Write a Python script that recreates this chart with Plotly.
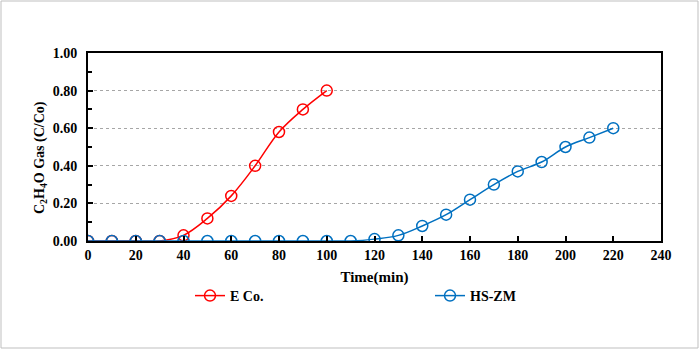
import plotly.graph_objects as go

time_eco = [0, 10, 20, 30, 40, 50, 60, 70, 80, 90, 100]
eco_vals = [0, 0, 0, 0, 0.03, 0.12, 0.24, 0.40, 0.58, 0.70, 0.80]
time_hs = [0, 10, 20, 30, 40, 50, 60, 70, 80, 90, 100, 110, 120, 130, 140, 150, 160, 170, 180, 190, 200, 210, 220]
hs_vals = [0, 0, 0, 0, 0, 0, 0, 0, 0, 0, 0, 0, 0.01, 0.03, 0.08, 0.14, 0.22, 0.30, 0.37, 0.42, 0.50, 0.55, 0.60]
x_ticks = list(range(0, 241, 20))
y_ticks = [0, 0.2, 0.4, 0.6, 0.8, 1.0]

FONT = "Liberation Serif"
fig = go.Figure()
fig.add_trace(go.Scatter(x=time_eco, y=eco_vals, name="<b>E Co.</b>", mode="lines+markers", legend="legend",
                         line=dict(color="#FF0000", width=1.5, shape="spline"),
                         marker=dict(symbol="circle-open", size=11, color="#FF0000", line=dict(width=1.5))))
fig.add_trace(go.Scatter(x=time_hs, y=hs_vals, name="<b>HS-ZM</b>", mode="lines+markers", legend="legend2",
                         line=dict(color="#0070C0", width=1.5, shape="spline"),
                         marker=dict(symbol="circle-open", size=11, color="#0070C0", line=dict(width=1.5))))

L, R, T, B = 88, 39, 53, 109
W, H = 700, 350
pw, ph = W - L - R, H - T - B
fig.add_shape(type="rect", xref="paper", yref="paper",
              x0=(1 - L) / pw, x1=(698 - L) / pw, y0=(H - B - 348) / ph, y1=(H - B - 1) / ph,
              line=dict(color="#BFBFBF", width=1), layer="below")

fig.add_annotation(text="<b>C<sub>2</sub>H<sub>4</sub>O Gas (C/Co)</b>", xref="paper", yref="paper",
                   x=(40 - L) / pw, y=(H - B - 158) / ph, textangle=-90, showarrow=False,
                   xanchor="center", yanchor="middle", font=dict(family=FONT, size=14, color="black"))

leg_common = dict(orientation="h", yanchor="middle", font=dict(family=FONT, size=14),
                  itemwidth=30, bgcolor="rgba(0,0,0,0)")
ly = (H - B - 296) / ph
fig.update_layout(
    width=W, height=H, margin=dict(l=L, r=R, t=T, b=B, autoexpand=False),
    paper_bgcolor="white", plot_bgcolor="white",
    font=dict(family=FONT, size=14, color="black"),
    showlegend=True,
    legend=dict(x=(190 - L) / pw, y=ly, xanchor="left", **leg_common),
    legend2=dict(x=(430 - L) / pw, y=ly, xanchor="left", **leg_common),
    xaxis=dict(range=[0, 240], tickvals=x_ticks, ticktext=[f"<b>{v}</b>" for v in x_ticks],
               tickfont=dict(size=14),
               showgrid=False, zeroline=False, showline=True, linecolor="black", linewidth=2,
               mirror=True, ticks="inside", ticklen=5, tickcolor="black", tickwidth=1.5,
               title=dict(text="<b>Time(min)</b>", font=dict(family=FONT, size=15), standoff=10)),
    yaxis=dict(range=[0, 1.0], tickvals=y_ticks, ticktext=[f"<b>{v:.2f}</b>" for v in y_ticks],
               tickfont=dict(size=14), ticklabelstandoff=6,
               showgrid=True, gridcolor="#A6A6A6", griddash="dot", gridwidth=1, zeroline=False,
               showline=True, linecolor="black", linewidth=2, mirror=True,
               ticks="inside", ticklen=5, tickcolor="black", tickwidth=1.5,
               minor=dict(dtick=0.1, ticks="inside", ticklen=4, tickcolor="black", showgrid=False)),
)
fig.write_html("out.html")
